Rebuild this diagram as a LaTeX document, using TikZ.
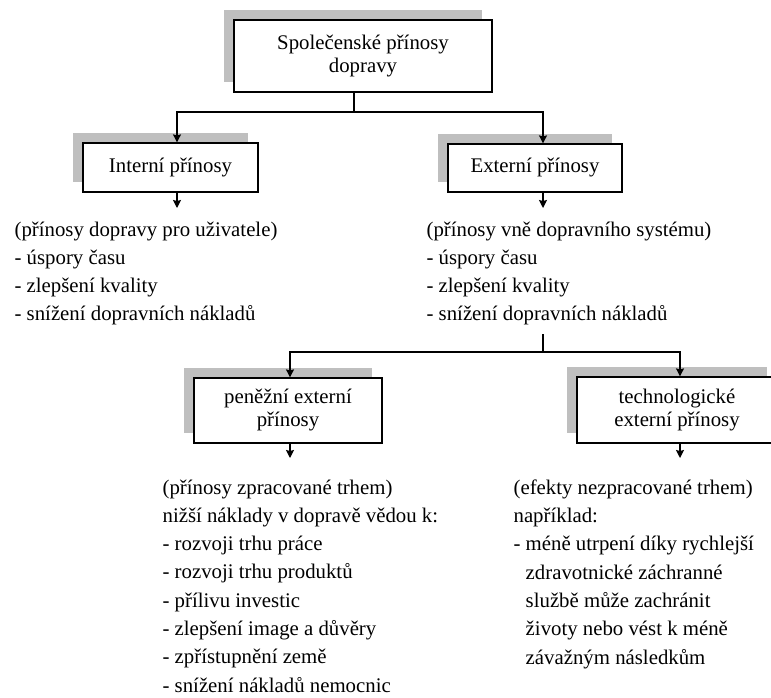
\documentclass[tikz,border=0pt]{standalone}
\usepackage{fontspec}
\setmainfont{Liberation Serif}
\usetikzlibrary{shadows, arrows.meta}

\begin{document}
\begin{tikzpicture}[x=1pt, y=-1pt, >={Stealth[length=8pt, width=8pt, inset=1pt]}, line width=1.2pt,
    font=\fontsize{20.8}{23}\selectfont,
    box/.style={draw, fill=white, align=center, inner sep=0pt,
        general shadow={fill=gray!50, draw=none, shadow xshift=-10pt, shadow yshift=10pt}},
    list/.style={anchor=north west, align=left, inner sep=0pt,
        font=\fontsize{20.8}{28.3}\selectfont}]
    \useasboundingbox (0,0) rectangle (771,698);
    \clip (0,0) rectangle (771,698);
    \node[box, minimum width=258, minimum height=72] (spol) at (363,56) {Společenské přínosy\\dopravy};
    \node[box, minimum width=175, minimum height=49] (intern) at (170.5,167.5) {Interní přínosy};
    \node[box, minimum width=174, minimum height=48] (extern) at (535,168) {Externí přínosy};
    \node[box, minimum width=188, minimum height=65] (penez) at (288,410.5) {peněžní externí\\přínosy};
    \node[box, minimum width=200, minimum height=66] (techn) at (677,410) {technologické\\externí přínosy};
    \node[list] (intlist) at (14,221) {(přínosy dopravy pro uživatele)\\- úspory času\\- zlepšení kvality\\- snížení dopravních nákladů};
    \node[list] (extlist) at (426,221) {(přínosy vně dopravního systému)\\- úspory času\\- zlepšení kvality\\- snížení dopravních nákladů};
    \node[list] (penlist) at (162,479) {(přínosy zpracované trhem)\\nižší náklady v dopravě vědou k:\\- rozvoji trhu práce\\- rozvoji trhu produktů\\- přílivu investic\\- zlepšení image a důvěry\\- zpřístupnění země\\- snížení nákladů nemocnic};
    \node[list] (teclist) at (513,479) {(efekty nezpracované trhem)\\například:\\- méně utrpení díky rychlejší\\\phantom{- }zdravotnické záchranné\\\phantom{- }službě může zachránit\\\phantom{- }životy nebo vést k méně\\\phantom{- }závažným následkům};
    \coordinate (ja) at (354,112);
    \coordinate (jb) at (543,352);
    \coordinate (iout) at (177,208);
    \coordinate (eout) at (543,208);
    \coordinate (pout) at (290,458);
    \coordinate (tout) at (680,458);
    \draw (spol.south -| ja) -- (ja);
    \draw[->] (ja) -| (intern.north -| iout);
    \draw[->] (ja) -| (extern.north -| eout);
    \draw[->] (intern.south -| iout) -- (iout);
    \draw[->] (extern.south -| eout) -- (eout);
    \draw (extlist.south -| jb) ++(0,8) -- (jb);
    \draw[->] (jb) -| (penez.north -| pout);
    \draw[->] (jb) -| (techn.north -| tout);
    \draw[->] (penez.south -| pout) -- (pout);
    \draw[->] (techn.south -| tout) -- (tout);
\end{tikzpicture}
\end{document}
